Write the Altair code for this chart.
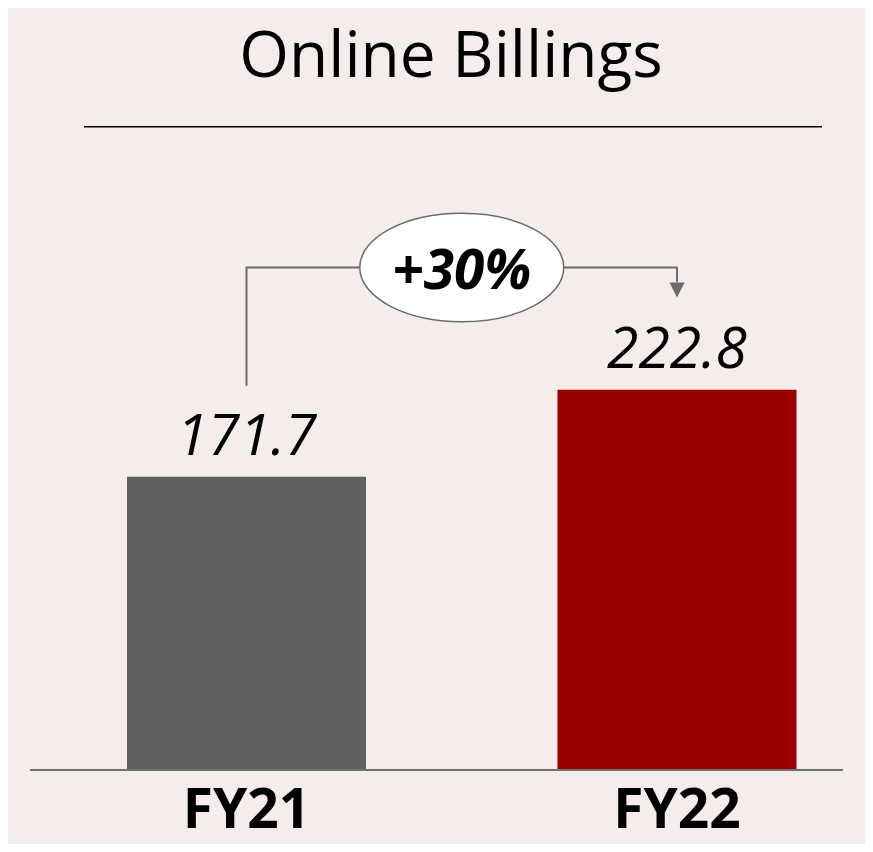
import altair as alt
import pandas as pd

# ---- data ----
categories = ["FY21", "FY22"]
values = [171.7, 222.8]
growth_label = ["+30%"]
title_text = ["Online Billings"]

# ---- annotation geometry (data units) ----
conn_x = [0, 0, 1, 1]
conn_y = [225.1, 294.6, 294.6, 286.0]
conn_order = [0, 1, 2, 3]
arrow_x = [1]
arrow_y = [281.3]
bubble_x = [0.5]
bubble_y = [294.6]

W, H = 857, 761
BG = "#F5EDEC"
FONT = "Open Sans"
LINE = "#6b6b6b"

xscale = alt.Scale(domain=[-0.554, 1.4367], nice=False, zero=False, padding=0)
yscale = alt.Scale(domain=[0, 447], nice=False, zero=True)

bars_df = pd.DataFrame({"cat": categories, "idx": list(range(len(categories))), "value": values})
bars_df["label"] = bars_df["value"].map(lambda v: f"{v:.1f}")

X = alt.X("idx:Q", scale=xscale, axis=None)
Y = alt.Y("value:Q", scale=yscale, axis=None)

base = alt.Chart(bars_df)

bars = base.mark_bar(size=239, orient="vertical").encode(
    x=X, y=Y,
    color=alt.Color("cat:N", scale=alt.Scale(domain=categories, range=["#606060", "#990000"]), legend=None),
)

value_labels = base.mark_text(
    font=FONT, fontSize=57, fontStyle="italic", baseline="alphabetic", dy=-22, color="black"
).encode(x=X, y=Y, text="label:N")

cat_labels = base.mark_text(
    font=FONT, fontSize=55, fontWeight="bold", baseline="alphabetic", color="black"
).encode(x=X, y=alt.value(820), text="cat:N")

conn_df = pd.DataFrame({"x": conn_x, "y": conn_y, "o": conn_order})
connector = alt.Chart(conn_df).mark_line(color=LINE, strokeWidth=2).encode(
    x=alt.X("x:Q", scale=xscale, axis=None),
    y=alt.Y("y:Q", scale=yscale, axis=None),
    order="o:Q",
)

arrow = alt.Chart(pd.DataFrame({"x": arrow_x, "y": arrow_y})).mark_point(
    shape="M-1,-1L1,-1L0,1Z", size=225, filled=True, color=LINE, opacity=1
).encode(x=alt.X("x:Q", scale=xscale, axis=None), y=alt.Y("y:Q", scale=yscale, axis=None))

b = 0.532
k = 0.5523
ellipse_path = (
    f"M-1,0C-1,{-k*b:.4f} {-k:.4f},{-b} 0,{-b}"
    f"C{k:.4f},{-b} 1,{-k*b:.4f} 1,0"
    f"C1,{k*b:.4f} {k:.4f},{b} 0,{b}"
    f"C{-k:.4f},{b} -1,{k*b:.4f} -1,0Z"
)
bubble_df = pd.DataFrame({"x": bubble_x, "y": bubble_y, "t": growth_label})
bubble = alt.Chart(bubble_df).mark_point(
    shape=ellipse_path, size=204 * 204, filled=True, fill="white", stroke=LINE, strokeWidth=1.5, opacity=1
).encode(x=alt.X("x:Q", scale=xscale, axis=None), y=alt.Y("y:Q", scale=yscale, axis=None))

bubble_text = alt.Chart(bubble_df).mark_text(
    font=FONT, fontSize=55, fontWeight="bold", fontStyle="italic", baseline="alphabetic", dy=22, color="black"
).encode(x=alt.X("x:Q", scale=xscale, axis=None), y=alt.Y("y:Q", scale=yscale, axis=None), text="t:N")

title = alt.Chart(pd.DataFrame({"t": title_text})).mark_text(
    font=FONT, fontSize=64, baseline="alphabetic", color="black"
).encode(x=alt.value(443), y=alt.value(69), text="t:N")

divider = alt.Chart(pd.DataFrame({"t": title_text})).mark_rule(color="black", strokeWidth=1.5).encode(
    x=alt.value(76), x2=alt.value(814), y=alt.value(118.7)
)

baseline = alt.Chart(pd.DataFrame({"z": [0]})).mark_rule(color="#707070", strokeWidth=2, yOffset=1).encode(
    x=alt.value(22), x2=alt.value(835), y=alt.Y("z:Q", scale=yscale, axis=None)
)

chart = alt.layer(
    title, divider, connector, bubble, bubble_text, arrow, bars, baseline, value_labels, cat_labels
).properties(
    width=W, height=H,
    autosize=alt.AutoSizeParams(type="none"),
    padding={"left": 0, "top": 0, "right": 0, "bottom": 75},
    background=BG,
).configure_view(stroke=None)

chart.save("out.html", embed_options={"renderer": "svg", "actions": False})
